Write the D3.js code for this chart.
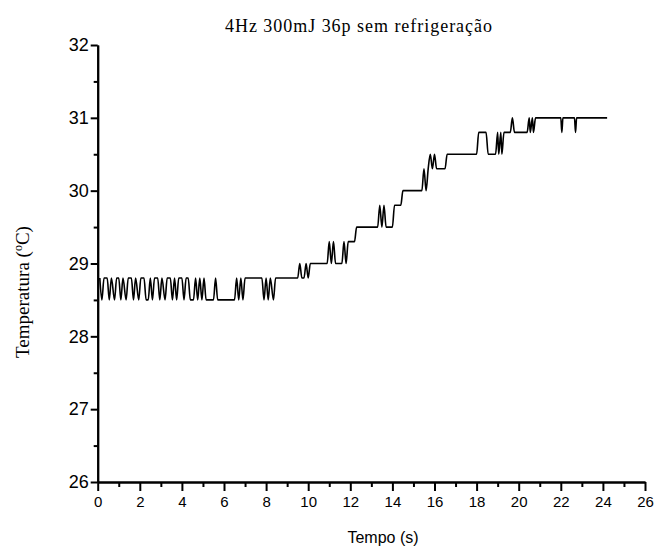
<!DOCTYPE html>
<html lang="pt">
<head>
<meta charset="UTF-8">
<title>4Hz 300mJ 36p sem refrigeração</title>
<script src="https://d3js.org/d3.v7.min.js"></script>
<style>
  body { margin: 0; background: #fff; }
  svg { display: block; }
  .axis path, .axis line { stroke: #000; stroke-width: 2px; }
  .axis text { fill: #000; font-family: "Liberation Sans", Arial, sans-serif; }
  .trace { fill: none; stroke: #000; stroke-width: 1.6px; stroke-linejoin: round; }
  .title, .ylabel { font-family: "Liberation Serif", "Times New Roman", serif; fill: #000; }
  .xlabel { font-family: "Liberation Sans", Arial, sans-serif; fill: #000; }
</style>
</head>
<body>
<svg id="chart" width="661" height="550"></svg>
<script>
// temperature trace (s, °C)
const timeS = [
  0.1, 0.2, 0.3, 0.45, 0.55, 0.65, 0.8, 0.9, 1.0, 1.1, 1.2, 1.35, 1.45, 1.6, 1.7, 1.8, 1.95, 2.05,
  2.2, 2.3, 2.4, 2.5, 2.6, 2.7, 2.85, 2.95, 3.05, 3.2, 3.3, 3.45, 3.55, 3.65, 3.75, 3.85, 4.0, 4.1,
  4.2, 4.3, 4.4, 4.55, 4.65, 4.75, 4.85, 4.95, 5.05, 5.15, 5.5, 5.6, 5.7, 6.5, 6.6, 6.7, 6.8, 6.9,
  7.0, 7.8, 7.9, 8.0, 8.1, 8.2, 8.35, 8.45, 9.5, 9.6, 9.7, 9.8, 9.9, 10.0, 10.1, 10.9, 11.0, 11.1,
  11.2, 11.3, 11.6, 11.7, 11.8, 11.9, 12.0, 12.2, 12.3, 13.3, 13.4, 13.5, 13.6, 13.7, 14.0, 14.1,
  14.4, 14.5, 15.4, 15.5, 15.6, 15.7, 15.8, 15.9, 16.0, 16.1, 16.5, 16.6, 18.0, 18.1, 18.45, 18.55,
  18.9, 19.0, 19.05, 19.15, 19.2, 19.3, 19.6, 19.7, 19.8, 20.4, 20.5, 20.55, 20.65, 20.7, 20.8,
  22.0, 22.05, 22.1, 22.65, 22.7, 22.75, 24.2
];
const tempC = [
  28.8, 28.5, 28.8, 28.8, 28.5, 28.8, 28.5, 28.8, 28.8, 28.5, 28.8, 28.5, 28.8, 28.8, 28.5, 28.8, 28.5, 28.8,
  28.8, 28.5, 28.5, 28.8, 28.5, 28.8, 28.8, 28.5, 28.8, 28.5, 28.8, 28.8, 28.5, 28.8, 28.5, 28.8, 28.8, 28.5,
  28.8, 28.8, 28.5, 28.5, 28.8, 28.5, 28.8, 28.5, 28.8, 28.5, 28.5, 28.8, 28.5, 28.5, 28.8, 28.5, 28.8, 28.5,
  28.8, 28.8, 28.5, 28.8, 28.5, 28.8, 28.5, 28.8, 28.8, 29.0, 28.8, 28.8, 29.0, 28.8, 29.0, 29.0, 29.3, 29.0,
  29.3, 29.0, 29.0, 29.3, 29.0, 29.3, 29.3, 29.3, 29.5, 29.5, 29.8, 29.5, 29.8, 29.5, 29.5, 29.8,
  29.8, 30.0, 30.0, 30.3, 30.0, 30.3, 30.5, 30.3, 30.5, 30.3, 30.3, 30.5, 30.5, 30.8, 30.8, 30.5,
  30.5, 30.8, 30.5, 30.8, 30.5, 30.8, 30.8, 31.0, 30.8, 30.8, 31.0, 30.8, 31.0, 30.8, 31.0,
  31.0, 30.8, 31.0, 31.0, 30.8, 31.0, 31.0
];

const xMajorTicks = [0, 2, 4, 6, 8, 10, 12, 14, 16, 18, 20, 22, 24, 26];
const xMinorTicks = [1, 3, 5, 7, 9, 11, 13, 15, 17, 19, 21, 23, 25];
const yMajorTicks = [26, 27, 28, 29, 30, 31, 32];
const yMinorTicks = [26.5, 27.5, 28.5, 29.5, 30.5, 31.5];

const titleText = "4Hz 300mJ 36p sem refrigeração";
const xTitle = "Tempo (s)";

const svg = d3.select("#chart");
const plotLeft = 97.7, plotRight = 645, plotTop = 45, plotBottom = 482;

const x = d3.scaleLinear().domain([0, 26]).range([plotLeft, plotRight]);
const y = d3.scaleLinear().domain([26, 32]).range([plotBottom, plotTop]);

// minor ticks first, then the major ones with labels
svg.append("g").attr("class", "axis")
  .attr("transform", `translate(0,${plotBottom})`)
  .call(d3.axisBottom(x).tickValues(xMinorTicks).tickSize(5).tickSizeOuter(0).tickFormat(""));
svg.append("g").attr("class", "axis")
  .attr("transform", `translate(${plotLeft},0)`)
  .call(d3.axisLeft(y).tickValues(yMinorTicks).tickSize(4).tickSizeOuter(0).tickFormat(""));

const xAxis = svg.append("g").attr("class", "axis")
  .attr("transform", `translate(0,${plotBottom})`)
  .call(d3.axisBottom(x).tickValues(xMajorTicks).tickSize(9).tickSizeOuter(0)
    .tickPadding(5).tickFormat(d3.format("d")));
xAxis.selectAll("text").style("font-size", "15px");

const yAxis = svg.append("g").attr("class", "axis")
  .attr("transform", `translate(${plotLeft},0)`)
  .call(d3.axisLeft(y).tickValues(yMajorTicks).tickSize(7).tickSizeOuter(0)
    .tickPadding(2).tickFormat(d3.format("d")));
yAxis.selectAll("text").style("font-size", "18px");

const line = d3.line()
  .x((d, i) => x(timeS[i]))
  .y(d => y(d))
  .curve(d3.curveMonotoneX);

svg.append("path")
  .attr("class", "trace")
  .attr("d", line(tempC));

svg.append("text")
  .attr("class", "title")
  .attr("x", 225).attr("y", 32)
  .attr("textLength", 267)
  .style("font-size", "18px")
  .text(titleText);

svg.append("text")
  .attr("class", "xlabel")
  .attr("x", 383).attr("y", 543)
  .attr("text-anchor", "middle")
  .style("font-size", "16px")
  .text(xTitle);

const yl = svg.append("text")
  .attr("class", "ylabel")
  .attr("transform", "translate(29,292) rotate(-90)")
  .attr("text-anchor", "middle")
  .style("font-size", "19px");
yl.append("tspan").text("Temperatura (");
yl.append("tspan").attr("dy", -7).style("font-size", "12px").text("o");
yl.append("tspan").attr("dy", 7).text("C)");
</script>
</body>
</html>
